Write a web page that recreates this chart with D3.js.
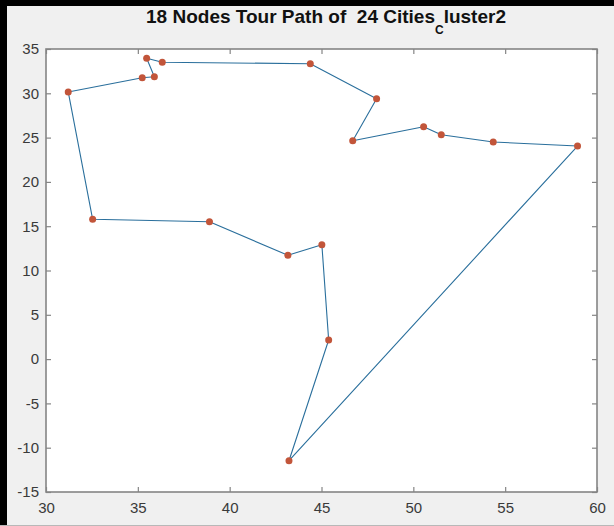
<!DOCTYPE html>
<html>
<head>
<meta charset="utf-8">
<script src="https://cdn.jsdelivr.net/npm/d3@7"></script>
<style>
  html, body { margin: 0; padding: 0; background: #f0f0f0; }
  svg { display: block; }
  text { font-family: "Liberation Sans", Arial, sans-serif; }
</style>
</head>
<body>
<script>
// Tour order of the 18 visited nodes (x, y coordinates)
const tourX = [35.48, 36.33, 44.39, 48.0, 46.7, 50.56, 51.52, 54.35, 58.94, 43.23, 45.39, 45.02, 43.17, 38.9, 32.54, 31.21, 35.24, 35.9];
const tourY = [33.95, 33.5, 33.34, 29.39, 24.65, 26.23, 25.33, 24.5, 24.05, -11.47, 2.16, 12.91, 11.71, 15.51, 15.78, 30.15, 31.76, 31.87];

// Axis limits and tick values
const xDomain = [30, 60];
const yDomain = [-15, 35];
const xTicks = [30, 35, 40, 45, 50, 55, 60];
const yTicks = [-15, -10, -5, 0, 5, 10, 15, 20, 25, 30, 35];

const W = 614, H = 526;
const box = { left: 46, right: 597, top: 49, bottom: 492 };

const svg = d3.select("body").append("svg")
  .attr("width", W).attr("height", H);

// figure background and window frame
svg.append("rect").attr("width", W).attr("height", H).attr("fill", "#f0f0f0");
svg.append("rect").attr("x", 0).attr("y", 0).attr("width", W).attr("height", 6).attr("fill", "#000");
svg.append("rect").attr("x", 0).attr("y", 0).attr("width", 7).attr("height", H).attr("fill", "#000");
svg.append("rect").attr("x", 0).attr("y", H - 1).attr("width", W).attr("height", 1).attr("fill", "#b8b8b8");

const x = d3.scaleLinear().domain(xDomain).range([box.left, box.right]);
const y = d3.scaleLinear().domain(yDomain).range([box.bottom, box.top]);

// plot area
svg.append("rect")
  .attr("x", box.left).attr("y", box.top)
  .attr("width", box.right - box.left).attr("height", box.bottom - box.top)
  .attr("fill", "#ffffff");

const axisColor = "#858585";
const labelColor = "#3a3a3a";
const tickLen = 5;
const plainNumber = d => String(d); // hyphen-minus, as in the plot

function styleAxis(g, showLabels) {
  g.select(".domain").remove();
  g.selectAll(".tick line").attr("stroke", axisColor).attr("stroke-width", 1.2);
  g.selectAll(".tick text")
    .attr("fill", labelColor)
    .style("font-size", "15px")
    .style("display", showLabels ? null : "none");
}

// bottom axis with labels, inward ticks
svg.append("g")
  .attr("transform", `translate(0,${box.bottom})`)
  .call(d3.axisBottom(x).tickValues(xTicks).tickFormat(plainNumber)
    .tickSizeInner(-tickLen).tickSizeOuter(0).tickPadding(10))
  .call(g => styleAxis(g, true));

// top axis, ticks only
svg.append("g")
  .attr("transform", `translate(0,${box.top})`)
  .call(d3.axisTop(x).tickValues(xTicks).tickSizeInner(-tickLen).tickSizeOuter(0))
  .call(g => styleAxis(g, false));

// left axis with labels
svg.append("g")
  .attr("transform", `translate(${box.left},0)`)
  .call(d3.axisLeft(y).tickValues(yTicks).tickFormat(plainNumber)
    .tickSizeInner(-tickLen).tickSizeOuter(0).tickPadding(7))
  .call(g => styleAxis(g, true));

// right axis, ticks only
svg.append("g")
  .attr("transform", `translate(${box.right},0)`)
  .call(d3.axisRight(y).tickValues(yTicks).tickSizeInner(-tickLen).tickSizeOuter(0))
  .call(g => styleAxis(g, false));

// plot box outline
svg.append("rect")
  .attr("x", box.left).attr("y", box.top)
  .attr("width", box.right - box.left).attr("height", box.bottom - box.top)
  .attr("fill", "none").attr("stroke", axisColor).attr("stroke-width", 1.6);

// closed tour path
const nodes = tourX.map((v, i) => ({ x: v, y: tourY[i] }));
const line = d3.line().x(d => x(d.x)).y(d => y(d.y));
svg.append("path")
  .datum(nodes.concat([nodes[0]]))
  .attr("d", line)
  .attr("fill", "none")
  .attr("stroke", "#2a6f9c")
  .attr("stroke-width", 1.1)
  .attr("stroke-linejoin", "round");

// city markers
svg.append("g").selectAll("circle")
  .data(nodes)
  .join("circle")
  .attr("cx", d => x(d.x))
  .attr("cy", d => y(d.y))
  .attr("r", 3.5)
  .attr("fill", "#c2553a");

// title with TeX-style subscript
const title = svg.append("text")
  .attr("x", 326).attr("y", 23)
  .attr("text-anchor", "middle")
  .attr("fill", "#111")
  .style("white-space", "pre")
  .style("font-size", "19px")
  .style("font-weight", "bold");
title.append("tspan").text("18 Nodes Tour Path of  24 Cities");
title.append("tspan").attr("dy", 11).style("font-size", "12px").text("C");
title.append("tspan").attr("dy", -11).text("luster2");
</script>
</body>
</html>
